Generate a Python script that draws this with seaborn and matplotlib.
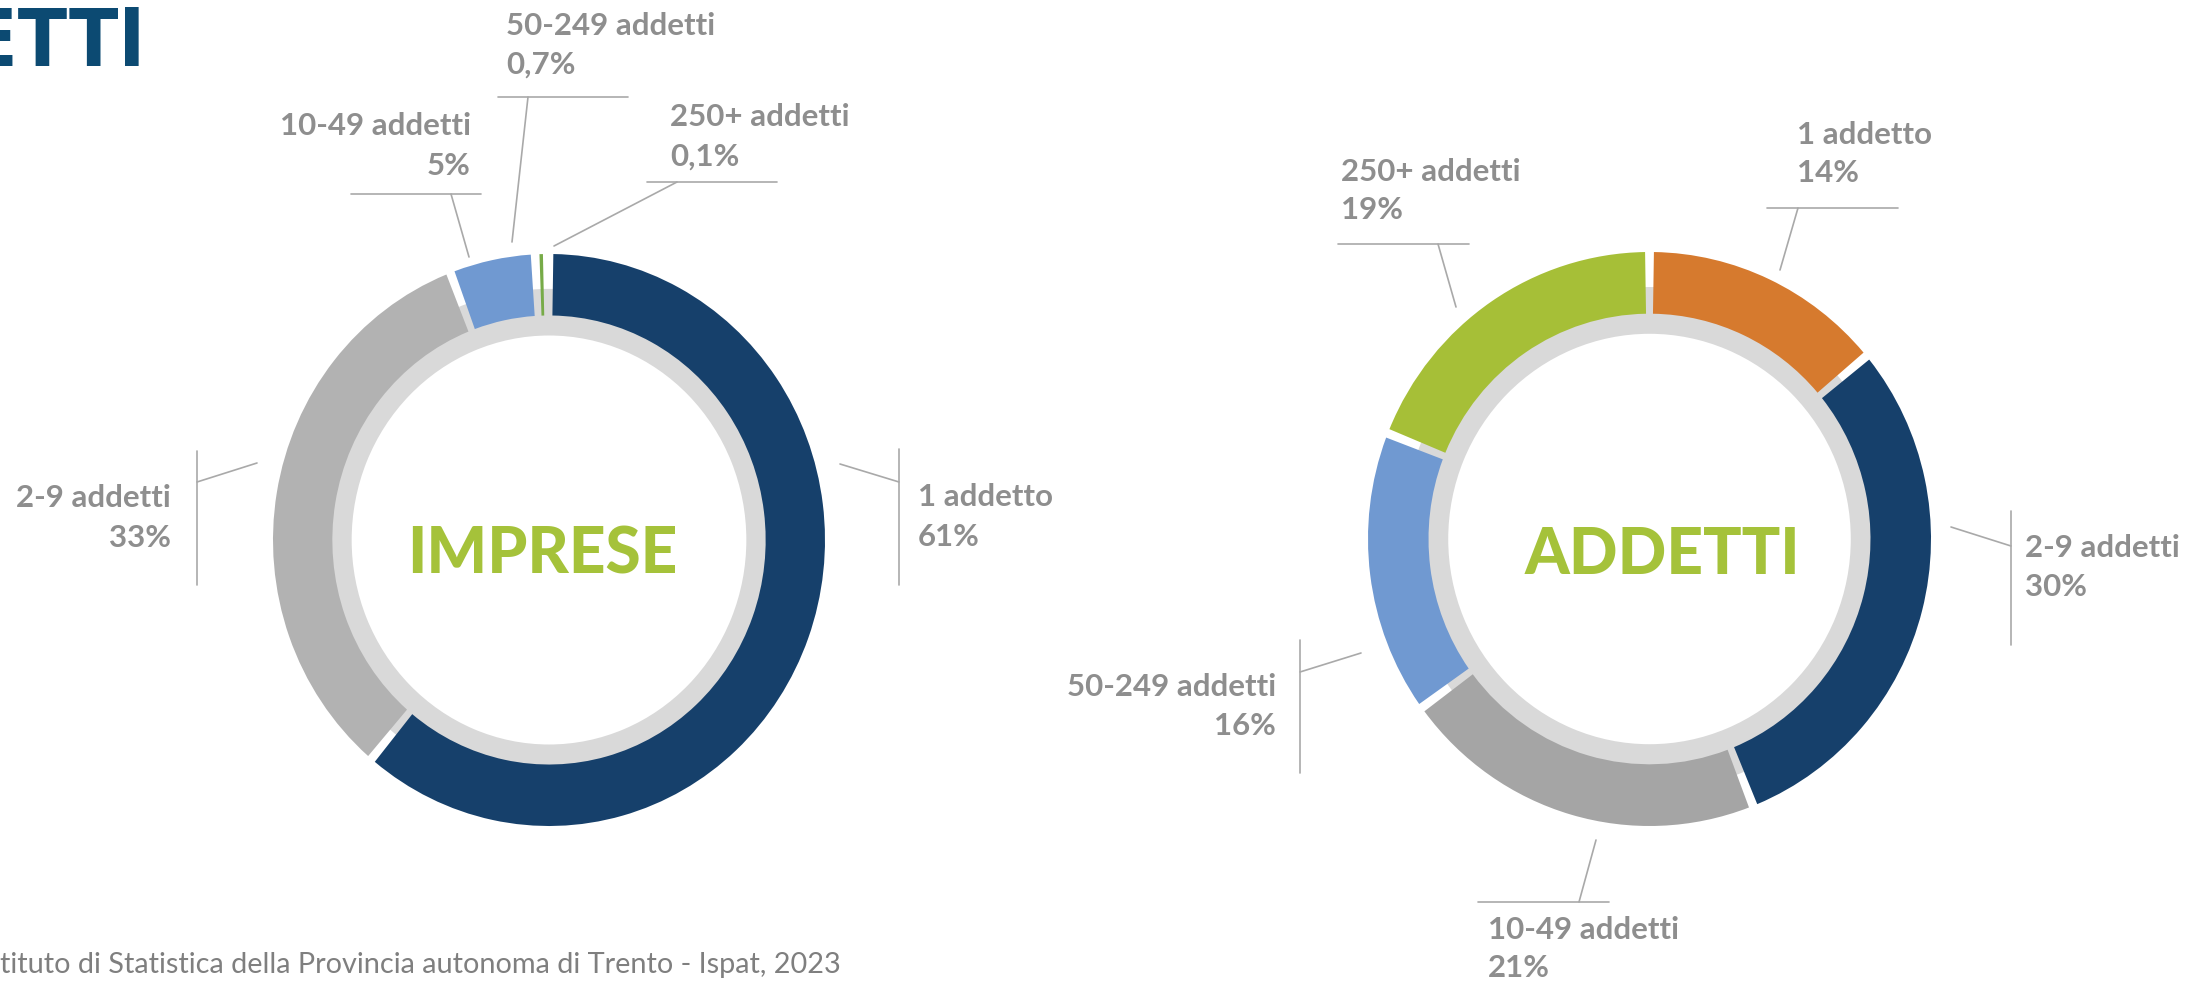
import matplotlib
matplotlib.use("Agg")
import matplotlib.pyplot as plt
import seaborn as sns
from matplotlib import font_manager
from matplotlib.lines import Line2D

# ---------------- data ----------------
categories = ["1 addetto", "2-9 addetti", "10-49 addetti", "50-249 addetti", "250+ addetti"]
imprese_pct = [61, 33, 5, 0.7, 0.1]
addetti_pct = [14, 30, 21, 16, 19]
chart_titles = ["IMPRESE", "ADDETTI"]
imprese_colors = ["#16406b", "#b2b2b2", "#7099d1", "#77ab48", "#d67a2e"]
addetti_colors = ["#d67a2e", "#16406b", "#a5a5a5", "#7099d1", "#a6bf37"]
source_text = "tituto di Statistica della Provincia autonoma di Trento - Ispat, 2023"
header_text = "ADDETTI"

# ---------------- style ----------------
sns.set_theme(style="white")
plt.rcParams["font.family"] = ["Lato", "DejaVu Sans"]

W, H = 2185, 985
DPI = 100
fig = plt.figure(figsize=(W / DPI, H / DPI), dpi=DPI)
fig.patch.set_facecolor("white")

LABEL_COLOR = "#8e8e8e"
LINE_COLOR = "#a9a9a9"
TITLE_COLOR = "#a5c23a"
LABEL_SIZE = 22.5


def fx(x):
    return x / W


def fy(y):
    return 1 - y / H


def fmt(v):
    if v < 1:
        return f"{v:.1f}".replace(".", ",") + "%"
    return f"{v:.0f}%"


# layout (pixel positions of the label blocks and their leader lines)
layouts = [
    {  # IMPRESE
        "center": (549, 540), "rx": 276, "ry": 286, "title_base": 574, "title_dx": -7,
        "labels": [
            (918, 497, 537, "left", [[(899, 449), (899, 585)], [(840, 464), (899, 482)]]),
            (171, 498, 538, "right", [[(197, 451), (197, 585)], [(197, 482), (257, 463)]]),
            (471, 126, 166, "right", [[(351, 194), (481, 194)], [(451, 194), (469, 257)]]),
            (506, 26, 65, "left", [[(498, 97), (628, 97)], [(528, 97), (512, 242)]]),
            (670, 117, 157, "left", [[(647, 182), (777, 182)], [(677, 182), (554, 246)]]),
        ],
    },
    {  # ADDETTI
        "center": (1649.5, 539), "rx": 281.5, "ry": 287, "title_base": 574, "title_dx": 13,
        "labels": [
            (1797, 135, 173, "left", [[(1767, 208), (1898, 208)], [(1798, 208), (1780, 270)]]),
            (2025, 548, 587, "left", [[(2011, 511), (2011, 645)], [(1951, 527), (2011, 546)]]),
            (1488, 930, 968, "left", [[(1478, 902), (1609, 902)], [(1579, 902), (1596, 840)]]),
            (1276, 687, 726, "right", [[(1300, 640), (1300, 773)], [(1300, 672), (1361, 653)]]),
            (1341, 172, 210, "left", [[(1338, 244), (1469, 244)], [(1438, 244), (1456, 307)]]),
        ],
    },
]

GAP_DEG = 1.8

for values, colors, title, lay in zip([imprese_pct, addetti_pct],
                                      [imprese_colors, addetti_colors],
                                      chart_titles, layouts):
    cx, cy = lay["center"]
    rx, ry = lay["rx"], lay["ry"]
    ax = fig.add_axes([fx(cx - rx), fy(cy + ry), 2 * rx / W, 2 * ry / H])
    # inner light-grey ring
    ax.pie([1], radius=0.878, colors=["#d9d9d9"],
           wedgeprops=dict(width=0.163, edgecolor="none"))
    wedges, _ = ax.pie(values, colors=colors, startangle=90, counterclock=False,
                       radius=1.0, wedgeprops=dict(width=0.215, edgecolor="none"))
    g = GAP_DEG / 2
    for w in wedges:
        t1, t2 = w.theta1, w.theta2
        if t2 - t1 > 2 * g:
            w.set_theta1(t1 + g)
            w.set_theta2(t2 - g)
        else:
            w.set_visible(False)
    ax.set_xlim(-1, 1)
    ax.set_ylim(-1, 1)
    ax.set_aspect("auto")
    ax.axis("off")
    ax.text(lay["title_dx"] / rx, (cy - lay["title_base"]) / ry, title,
            ha="center", va="baseline", fontsize=46, fontweight="black",
            color=TITLE_COLOR)

    for cat, v, (tx, y1, y2, ha, lines) in zip(categories, values, lay["labels"]):
        fig.text(fx(tx), fy(y1), cat, ha=ha, va="center", fontsize=LABEL_SIZE,
                 fontweight="bold", color=LABEL_COLOR)
        fig.text(fx(tx), fy(y2), fmt(v), ha=ha, va="center", fontsize=LABEL_SIZE,
                 fontweight="bold", color=LABEL_COLOR)
        for seg in lines:
            xs = [fx(p[0]) for p in seg]
            ys = [fy(p[1]) for p in seg]
            fig.add_artist(Line2D(xs, ys, color=LINE_COLOR, lw=1.2,
                                  transform=fig.transFigure))


# condensed font for the (cropped) page header
def find_condensed():
    best = None
    for f in font_manager.fontManager.ttflist:
        key = (f.name + " " + f.fname).lower()
        if "condensed" in key or "narrow" in key:
            score = 0
            if "bold" in key or (isinstance(f.weight, int) and f.weight >= 600):
                score += 2
            if "italic" in key or "oblique" in key:
                score -= 5
            if best is None or score > best[0]:
                best = (score, f.fname)
    if best:
        return font_manager.FontProperties(fname=best[1])
    return font_manager.FontProperties(family="DejaVu Sans", weight="bold")


fp = find_condensed()
fig.text(fx(146), fy(44), header_text, ha="right", va="center",
         fontproperties=fp, fontsize=58, color="#0c4a72")

fig.text(fx(0), fy(965), source_text, ha="left", va="center", fontsize=20.8,
         fontweight="normal", color="#7f7f7f")

fig.savefig("out.png", dpi=DPI, facecolor="white")
